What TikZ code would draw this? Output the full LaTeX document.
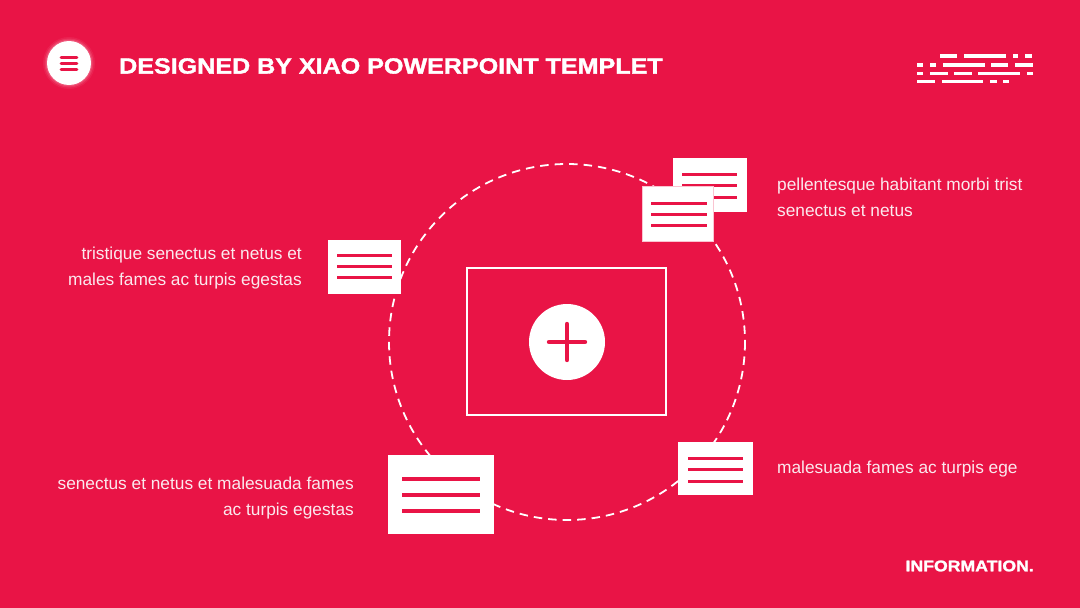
\documentclass[tikz,border=0pt]{standalone}
\usepackage{fontspec}
\setmainfont{Liberation Sans}
\newfontfamily\heavy[FakeStretch=1.14,BoldFeatures={FakeBold=1.6}]{Liberation Sans}
\definecolor{bg}{HTML}{E91446}
\definecolor{txt}{HTML}{FBE9EE}
\tikzset{
  card/.style={fill=white,draw=none},
  cardline/.style={draw=bg,line width=#1},
  cardline/.default=3pt,
  body/.style={text=txt,font=\fontsize{17.3}{26}\selectfont,inner sep=0pt},
}
\begin{document}
\begin{tikzpicture}[x=1pt,y=-1pt]
\fill[bg] (0,0) rectangle (1080,608);
\useasboundingbox (0,0) rectangle (1080,608);
% menu icon
\foreach \r/\o in {26/0.06,24.5/0.1,23.2/0.14}{\fill[white,opacity=\o] (69,63) circle (\r);}
\node[circle,fill=white,minimum size=44pt,inner sep=0pt] (menu) at (69,63) {};
\foreach \yy in {57.5,63.5,69.5}{\draw[bg,line width=2.6pt,line cap=round] (61,\yy) -- (77,\yy);}
% title
\node[anchor=west,text=white,font=\heavy\bfseries\fontsize{22}{26}\selectfont,inner sep=0pt] (title) at (119,66) {DESIGNED BY XIAO POWERPOINT TEMPLET};
% top right deco
\foreach \a/\b in {940/957,964/1006,1013/1018,1025/1032}{\fill[white] (\a,54.3) rectangle (\b,57.8);}
\foreach \a/\b in {917/923,930/936,943/985,991/1008,1015/1033}{\fill[white] (\a,63.2) rectangle (\b,66.7);}
\foreach \a/\b in {917/923,930/948,954/972,978/1020,1027/1033}{\fill[white] (\a,71.5) rectangle (\b,75);}
\foreach \a/\b in {917/935,942/983,990/997,1003/1009}{\fill[white] (\a,79.5) rectangle (\b,83);}
% dashed circle
\draw[white,line width=1.8pt,dash pattern=on 8.5pt off 6pt] (567,342) circle (178);
% central frame
\draw[white,line width=2pt] (467,268) rectangle (666,415);
\node[circle,fill=white,minimum size=76pt,inner sep=0pt] (plus) at (567,342) {};
\draw[bg,line width=4.4pt,line cap=round] (549,342) -- (585,342) (567,324) -- (567,360);
% left upper card
\fill[card] (328,240) rectangle (401,294);
\foreach \yy in {255,266,277}{\draw[cardline] (337,\yy) -- (392,\yy);}
% bottom left card
\fill[card] (388,455) rectangle (494,534);
\foreach \yy in {479,495,511}{\draw[cardline=4.2pt] (402,\yy) -- (480,\yy);}
% bottom right card
\fill[card] (678,442) rectangle (753,495);
\foreach \yy in {458,469,481}{\draw[cardline] (688,\yy) -- (743,\yy);}
% top right pair
\fill[card] (673,158) rectangle (747,212);
\foreach \yy in {174,185,197}{\draw[cardline] (682,\yy) -- (737,\yy);}
\fill[card,draw=bg!25,line width=0.6pt] (642,186) rectangle (713,241);
\foreach \yy in {203,214,225}{\draw[cardline] (651,\yy) -- (707,\yy);}
% texts
\node[body,anchor=east,align=right] (t1) at (302,268) {tristique senectus et netus et\\males fames ac turpis egestas};
\node[body,anchor=west,align=left] (t2) at (777,197) {pellentesque habitant morbi trist\\senectus et netus};
\node[body,anchor=east,align=right] (t3) at (354,498) {senectus et netus et malesuada fames\\ac turpis egestas};
\node[body,anchor=west,align=left] (t4) at (777,469) {malesuada fames ac turpis ege};
\node[anchor=east,text=white,font=\heavy\bfseries\fontsize{15.5}{18}\selectfont,inner sep=0pt] (info) at (1034,566) {INFORMATION.};
\end{tikzpicture}
\end{document}
